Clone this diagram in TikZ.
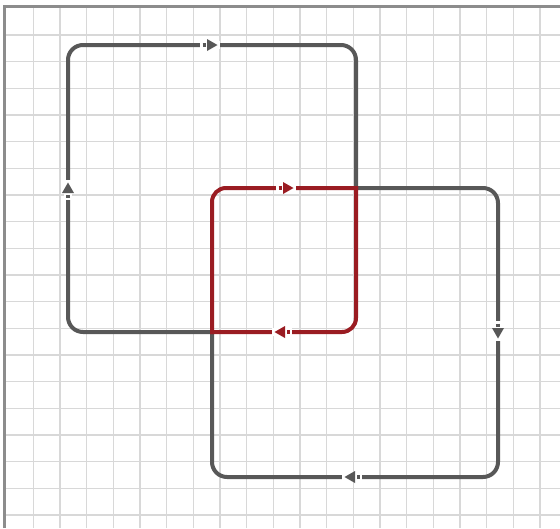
\documentclass[tikz,border=0pt]{standalone}
\usetikzlibrary{calc}
\definecolor{loopgray}{HTML}{585858}
\definecolor{loopred}{HTML}{9A1C22}
\definecolor{gridcol}{HTML}{D8D8D8}
\definecolor{framecol}{HTML}{8C8C8C}
\tikzset{
  x=1pt, y=-1pt,
  gridline/.style={gridcol, line width=1.3pt},
  loopline/.style={line width=4pt, rounded corners=15pt, line cap=butt},
  pics/flowarrow/.style={code={
    \fill[white] (-12,-3.6) rectangle (8,3.6);
    \draw[line width=4pt,#1] (-9.5,0) -- (-6.5,0);
    \fill[#1] (-5,-6) -- (5.5,0) -- (-5,6) -- cycle;
  }}
}
\begin{document}
\begin{tikzpicture}
\useasboundingbox (0,0) rectangle (560,528);
\fill[white] (0,0) rectangle (560,528);
% grid
\foreach \k in {0,...,19} {
  \draw[gridline] ({33.3+26.67*\k},6) -- ({33.3+26.67*\k},528);
}
\foreach \k in {0,...,18} {
  \draw[gridline] (5,{35+26.67*\k}) -- (560,{35+26.67*\k});
}
% frame (top and left)
\draw[framecol, line width=2.6pt] (4.5,528) -- (4.5,6.5) -- (560,6.5);
% corners
\coordinate (A1) at (68,45);
\coordinate (A2) at (356,45);
\coordinate (C1) at (212,188);
\coordinate (C2) at (356,188);
\coordinate (C3) at (356,332);
\coordinate (C4) at (212,332);
\coordinate (A4) at (68,332);
\coordinate (B2) at (498,188);
\coordinate (B3) at (498,477);
\coordinate (B4) at (212,477);
% gray loops
\draw[loopline, loopgray] (C4) -- (A4) -- (A1) -- (A2) -- (C2);
\draw[loopline, loopgray] (C2) -- (B2) -- (B3) -- (B4) -- (C4);
% red loop (rounded at C1 and C3, sharp at C2 and C4)
\draw[loopline, loopred, rounded corners=14pt, line cap=rect] (C2) -- (C3) -- (C4);
\draw[loopline, loopred, rounded corners=14pt, line cap=rect] (C4) -- (C1) -- (C2);
% arrows
\pic at (212,45) {flowarrow=loopgray};
\pic[rotate=90] at (68,188) {flowarrow=loopgray};
\pic[rotate=-90] at (498,333) {flowarrow=loopgray};
\pic[rotate=180] at (350,477) {flowarrow=loopgray};
\pic at (288,188) {flowarrow=loopred};
\pic[rotate=180] at (280,332) {flowarrow=loopred};
\end{tikzpicture}
\end{document}
